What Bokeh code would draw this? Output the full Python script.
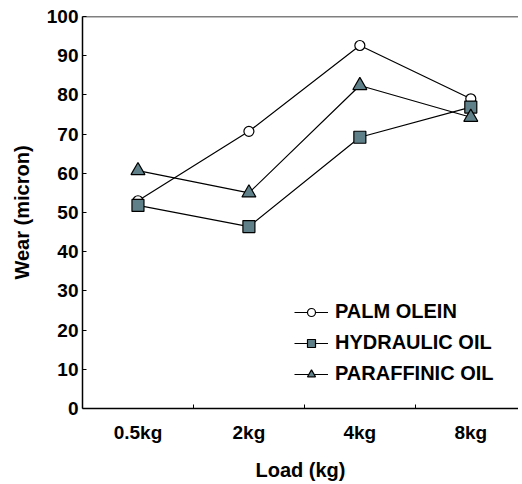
from bokeh.plotting import figure
from bokeh.models import FixedTicker, Span, Legend, LegendItem, ColumnDataSource
from bokeh.embed import file_html
from bokeh.resources import INLINE

loads = ["0.5kg", "2kg", "4kg", "8kg"]
palm_olein = [53, 70.7, 92.6, 79]
hydraulic_oil = [51.8, 46.4, 69.2, 76.9]
paraffinic_oil = [60.7, 55, 82.4, 74.3]
y_ticks = list(range(0, 101, 10))

xs = list(range(len(loads)))
FONT = "Liberation Sans"
FS_TICK = "19px"
FS_LAB = "20px"

p = figure(frame_width=436, frame_height=392, x_range=(-0.5, 3.43), y_range=(0, 100),
           output_backend="svg", toolbar_location=None,
           min_border_left=82, min_border_right=0, min_border_top=16, min_border_bottom=72)
p.outline_line_color = None
p.grid.visible = False
p.background_fill_color = "white"
p.border_fill_color = "white"

# top frame line
p.add_layout(Span(location=100, dimension="width", line_color="black", line_width=1.5))

xa = p.xaxis[0]
xa.ticker = FixedTicker(ticks=xs, minor_ticks=[i + 0.5 for i in xs[:-1]])
xa.major_label_overrides = {i: l for i, l in zip(xs, loads)}
xa.major_tick_in = 0
xa.major_tick_out = 0
xa.minor_tick_in = 4
xa.minor_tick_out = 0
xa.minor_tick_line_color = "black"
xa.axis_label = "Load (kg)"
xa.major_label_standoff = 13
xa.axis_label_standoff = 13

ya = p.yaxis[0]
ya.ticker = FixedTicker(ticks=y_ticks)
ya.major_tick_in = 4
ya.major_tick_out = 0
ya.minor_tick_line_color = None
ya.axis_label = "Wear (micron)"
ya.major_label_standoff = 4
ya.axis_label_standoff = 11

for ax in (xa, ya):
    ax.axis_line_color = "black"
    ax.axis_line_width = 1.5
    ax.major_tick_line_color = "black"
    ax.major_label_text_font = FONT
    ax.major_label_text_font_style = "bold"
    ax.major_label_text_font_size = FS_TICK
    ax.major_label_text_color = "black"
    ax.axis_label_text_font = FONT
    ax.axis_label_text_font_style = "bold"
    ax.axis_label_text_font_size = FS_LAB
    ax.axis_label_text_color = "black"

fill = "#5f8088"
series = [
    ("PALM OLEIN", palm_olein, "circle", "white", 10),
    ("HYDRAULIC OIL", hydraulic_oil, "square", fill, 12),
    ("PARAFFINIC OIL", paraffinic_oil, "triangle", fill, 14),
]
items = []
for name, vals, marker, fc, size in series:
    src = ColumnDataSource(dict(x=xs, y=vals))
    ln = p.line("x", "y", source=src, line_color="black", line_width=1.2)
    sc = p.scatter("x", "y", source=src, marker=marker, size=size,
                   fill_color=fc, line_color="black", line_width=1.2)
    items.append(LegendItem(label=name, renderers=[ln, sc]))

leg = Legend(items=items, location=(212, 23), padding=0, margin=0, spacing=8,
             glyph_width=34, glyph_height=20, label_height=20, label_standoff=7,
             border_line_color=None, background_fill_alpha=0,
             label_text_font=FONT, label_text_font_style="bold",
             label_text_font_size=FS_LAB, label_text_color="black")
p.add_layout(leg, "center")

open("out.html", "w").write(file_html(p, INLINE))
